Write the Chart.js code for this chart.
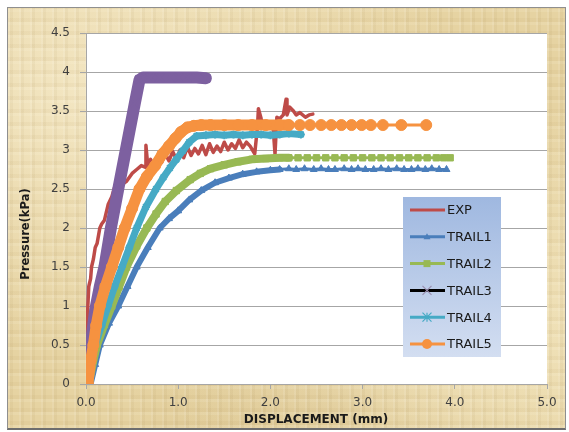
<!DOCTYPE html>
<html>
<head>
<meta charset="utf-8">
<script src="https://cdn.jsdelivr.net/npm/chart.js@4.4.1/dist/chart.umd.min.js"></script>
<style>
    html, body { margin: 0; padding: 0; background: #ffffff; }
    #wrap { position: relative; width: 569px; height: 432px; overflow: hidden; }
    #paper {
        position: absolute; left: 7px; top: 7px; width: 557px; height: 420px;
        border: 1px solid #8f8f8f; border-bottom: 2px solid #6e6e6e;
        background:
            repeating-linear-gradient(90deg, rgba(255,255,255,0.10) 0 2px, rgba(120,90,30,0.05) 2px 5px, rgba(255,255,255,0) 5px 11px),
            repeating-linear-gradient(0deg, rgba(255,250,230,0.12) 0 3px, rgba(150,110,40,0.05) 3px 7px, rgba(255,255,255,0) 7px 13px),
            radial-gradient(ellipse at 15% 20%, #f3e6c2 0%, rgba(243,230,194,0) 55%),
            radial-gradient(ellipse at 85% 75%, #f1e3bb 0%, rgba(241,227,187,0) 50%),
            radial-gradient(ellipse at 60% 95%, #d9c28c 0%, rgba(217,194,140,0) 45%),
            #e6d3a2;
    }
    canvas { position: absolute; left: 0; top: 0; }
</style>
</head>
<body>
<div id="wrap">
    <div id="paper"></div>
    <canvas id="chart" width="569" height="432"></canvas>
</div>
<script>
// values
const expX = [0, 0.01, 0.02, 0.03, 0.05, 0.06, 0.08, 0.1, 0.12, 0.15, 0.17, 0.2, 0.24, 0.28, 0.33, 0.38, 0.44, 0.5, 0.55, 0.6, 0.64, 0.65, 0.67, 0.7, 0.74, 0.78, 0.82, 0.86, 0.9, 0.94, 0.98, 1.02, 1.06, 1.1, 1.14, 1.18, 1.22, 1.26, 1.3, 1.34, 1.38, 1.42, 1.46, 1.5, 1.54, 1.58, 1.62, 1.66, 1.7, 1.74, 1.78, 1.83, 1.86, 1.87, 1.9, 1.93, 1.98, 2.03, 2.05, 2.07, 2.1, 2.14, 2.17, 2.18, 2.21, 2.25, 2.28, 2.32, 2.38, 2.42, 2.46];
const expY = [0, 0.6, 1.0, 1.25, 1.35, 1.5, 1.6, 1.75, 1.8, 2.0, 2.05, 2.1, 2.3, 2.4, 2.6, 2.55, 2.6, 2.7, 2.75, 2.8, 2.78, 3.06, 2.8, 2.88, 2.8, 2.92, 2.84, 2.95, 2.86, 2.98, 2.88, 3.0, 2.9, 3.04, 2.93, 3.02, 2.95, 3.06, 2.94, 3.08, 2.97, 3.05, 2.98, 3.1, 3.0, 3.08, 3.02, 3.13, 3.03, 3.1, 3.05, 2.95, 3.3, 3.53, 3.4, 3.3, 3.35, 3.28, 2.95, 3.42, 3.4, 3.45, 3.65, 3.45, 3.55, 3.5, 3.45, 3.48, 3.42, 3.45, 3.46];

const trail1X = [0.05, 0.1, 0.15, 0.25, 0.35, 0.45, 0.55, 0.67, 0.8, 0.9, 1.0, 1.12, 1.25, 1.4, 1.55, 1.7, 1.85, 2.0, 2.1, 2.2, 2.28, 2.37, 2.47, 2.55, 2.63, 2.7, 2.8, 2.88, 2.95, 3.03, 3.12, 3.2, 3.28, 3.37, 3.45, 3.53, 3.6, 3.68, 3.75, 3.83, 3.91];
const trail1Y = [0, 0.25, 0.5, 0.78, 1.0, 1.25, 1.5, 1.75, 2.0, 2.12, 2.22, 2.36, 2.48, 2.58, 2.64, 2.69, 2.72, 2.74, 2.75, 2.76, 2.75, 2.76, 2.75, 2.76, 2.75, 2.75, 2.76, 2.75, 2.76, 2.75, 2.75, 2.76, 2.75, 2.76, 2.75, 2.75, 2.76, 2.75, 2.76, 2.75, 2.75];

const trail2X = [0.03, 0.08, 0.12, 0.2, 0.28, 0.36, 0.44, 0.55, 0.66, 0.76, 0.86, 0.98, 1.13, 1.24, 1.35, 1.5, 1.65, 1.8, 1.95, 2.1, 2.2, 2.3, 2.4, 2.5, 2.6, 2.7, 2.8, 2.9, 3.0, 3.1, 3.2, 3.3, 3.4, 3.5, 3.6, 3.7, 3.8, 3.88, 3.95];
const trail2Y = [0, 0.3, 0.5, 0.76, 1.0, 1.25, 1.5, 1.77, 2.0, 2.18, 2.34, 2.48, 2.62, 2.7, 2.76, 2.81, 2.85, 2.88, 2.89, 2.9, 2.9, 2.9, 2.9, 2.9, 2.9, 2.9, 2.9, 2.9, 2.9, 2.9, 2.9, 2.9, 2.9, 2.9, 2.9, 2.9, 2.9, 2.9, 2.9];

const trail3X = [0, 0.05, 0.1, 0.15, 0.2, 0.27, 0.35, 0.44, 0.53, 0.58, 0.62, 0.7, 0.8, 0.9, 1.0, 1.1, 1.2, 1.3];
const trail3Y = [0, 0.5, 0.95, 1.25, 1.5, 2.0, 2.5, 3.05, 3.6, 3.9, 3.93, 3.93, 3.93, 3.93, 3.93, 3.93, 3.93, 3.92];

const trail4X = [0.02, 0.06, 0.1, 0.17, 0.24, 0.31, 0.39, 0.47, 0.55, 0.65, 0.76, 0.84, 0.91, 0.98, 1.05, 1.12, 1.2, 1.3, 1.4, 1.5, 1.6, 1.7, 1.8, 1.9, 2.0, 2.1, 2.2, 2.33];
const trail4Y = [0, 0.25, 0.5, 0.75, 1.0, 1.25, 1.5, 1.75, 2.0, 2.27, 2.5, 2.65, 2.77, 2.88, 2.99, 3.1, 3.18, 3.19, 3.2, 3.19, 3.2, 3.19, 3.2, 3.2, 3.19, 3.2, 3.21, 3.2];

const trail5X = [0.02, 0.05, 0.08, 0.11, 0.15, 0.21, 0.28, 0.35, 0.42, 0.5, 0.58, 0.66, 0.75, 0.83, 0.9, 0.97, 1.03, 1.1, 1.17, 1.25, 1.35, 1.5, 1.65, 1.8, 1.95, 2.1, 2.2, 2.32, 2.43, 2.55, 2.66, 2.77, 2.88, 2.99, 3.09, 3.22, 3.42, 3.69];
const trail5Y = [0, 0.3, 0.5, 0.75, 1.0, 1.25, 1.5, 1.75, 2.0, 2.25, 2.5, 2.66, 2.8, 2.95, 3.05, 3.15, 3.23, 3.29, 3.31, 3.32, 3.32, 3.32, 3.32, 3.32, 3.32, 3.32, 3.32, 3.32, 3.32, 3.32, 3.32, 3.32, 3.32, 3.32, 3.32, 3.32, 3.32, 3.32];

const seriesNames = ['EXP', 'TRAIL1', 'TRAIL2', 'TRAIL3', 'TRAIL4', 'TRAIL5'];
const xTicks = [0, 1, 2, 3, 4, 5];

// styles: band = line width where markers are packed, thin = width where they spread out
const styles = [
    { xs: expX, ys: expY, color: '#be4b48', legendColor: '#be4b48', marker: false, radius: 0, band: 3.5, thin: 3.5, bandEnd: 9 },
    { xs: trail1X, ys: trail1Y, color: '#4a7ebb', legendColor: '#4a7ebb', marker: 'triangle', radius: 4, band: 6, thin: 3, bandEnd: 2.1 },
    { xs: trail2X, ys: trail2Y, color: '#98b954', legendColor: '#98b954', marker: 'rect', radius: 4.5, band: 8, thin: 3, bandEnd: 2.2 },
    { xs: trail3X, ys: trail3Y, color: '#7d60a0', legendColor: '#000000', marker: 'crossRot', radius: 6, band: 12, thin: 12, bandEnd: 9 },
    { xs: trail4X, ys: trail4Y, color: '#46aac5', legendColor: '#46aac5', marker: 'star', radius: 4, band: 7, thin: 7, bandEnd: 9 },
    { xs: trail5X, ys: trail5Y, color: '#f69240', legendColor: '#f69240', marker: 'circle', radius: 5.5, band: 11, thin: 3, bandEnd: 2.2 }
];

const datasets = styles.map((s, i) => ({
    label: seriesNames[i],
    data: s.xs.map((x, k) => ({ x: x, y: s.ys[k] })),
    showLine: true,
    borderColor: s.color,
    backgroundColor: s.color,
    borderWidth: s.thin,
    borderJoinStyle: 'round',
    borderCapStyle: 'round',
    pointStyle: s.marker || 'circle',
    pointRadius: s.marker ? s.radius : 0,
    pointBorderColor: s.color,
    pointBackgroundColor: s.color,
    pointBorderWidth: (s.marker === 'crossRot' || s.marker === 'star') ? 2 : 1,
    order: 6 - i,
    segment: {
        borderWidth: ctx => (s.xs[ctx.p1DataIndex] <= s.bandEnd ? s.band : s.thin)
    }
}));

const fontFamily = '"DejaVu Sans", Verdana, sans-serif';
const tickFont = { family: fontFamily, size: 12 };
const gridGray = '#a6a6a6';

// white plot area
const plotBackground = {
    id: 'plotBackground',
    beforeDraw(chart) {
        const a = chart.chartArea;
        const ctx = chart.ctx;
        ctx.save();
        ctx.fillStyle = '#ffffff';
        ctx.fillRect(a.left, a.top, a.right - a.left, a.bottom - a.top);
        ctx.restore();
    }
};

function drawMarker(ctx, style, x, y, r, color) {
    ctx.save();
    ctx.fillStyle = color;
    ctx.strokeStyle = color;
    ctx.lineWidth = 1.2;
    ctx.beginPath();
    if (style === 'triangle') {
        ctx.moveTo(x, y - r);
        ctx.lineTo(x + r, y + r * 0.7);
        ctx.lineTo(x - r, y + r * 0.7);
        ctx.closePath();
        ctx.fill();
    } else if (style === 'rect') {
        ctx.fillRect(x - r, y - r, 2 * r, 2 * r);
    } else if (style === 'crossRot') {
        ctx.moveTo(x - r, y - r); ctx.lineTo(x + r, y + r);
        ctx.moveTo(x - r, y + r); ctx.lineTo(x + r, y - r);
        ctx.stroke();
    } else if (style === 'star') {
        ctx.moveTo(x - r, y - r); ctx.lineTo(x + r, y + r);
        ctx.moveTo(x - r, y + r); ctx.lineTo(x + r, y - r);
        ctx.moveTo(x, y - r); ctx.lineTo(x, y + r);
        ctx.stroke();
    } else if (style === 'circle') {
        ctx.arc(x, y, r, 0, Math.PI * 2);
        ctx.fill();
    }
    ctx.restore();
}

// legend box inside the plot, plus the axis titles
const boxLegend = {
    id: 'boxLegend',
    afterDatasetsDraw(chart) {
        const ctx = chart.ctx;
        const left = 403, top = 197, w = 98, h = 160;
        ctx.save();
        const g = ctx.createLinearGradient(0, top, 0, top + h);
        g.addColorStop(0, '#9fb8e0');
        g.addColorStop(1, '#d3def1');
        ctx.fillStyle = g;
        ctx.fillRect(left, top, w, h);

        const legendMarkers = [
            { style: false, r: 0, color: '' },
            { style: 'triangle', r: 3.5, color: '#4a7ebb' },
            { style: 'rect', r: 3.5, color: '#98b954' },
            { style: 'crossRot', r: 4.5, color: '#9a8fb0' },
            { style: 'star', r: 4.5, color: '#46aac5' },
            { style: 'circle', r: 5, color: '#f69240' }
        ];
        ctx.font = '13px ' + fontFamily;
        ctx.textBaseline = 'middle';
        seriesNames.forEach((name, i) => {
            const y = 210 + i * 26.8;
            ctx.strokeStyle = styles[i].legendColor;
            ctx.lineWidth = 3;
            ctx.beginPath();
            ctx.moveTo(410, y);
            ctx.lineTo(445, y);
            ctx.stroke();
            const m = legendMarkers[i];
            if (m.style) drawMarker(ctx, m.style, 427, y, m.r, m.color);
            ctx.fillStyle = '#1a1a1a';
            ctx.fillText(name, 447, y + 1);
        });
        ctx.restore();
    },
    afterDraw(chart) {
        const ctx = chart.ctx;
        ctx.save();
        ctx.fillStyle = '#1a1a1a';
        ctx.textAlign = 'center';
        ctx.textBaseline = 'middle';
        ctx.font = 'bold 12px ' + fontFamily;
        ctx.fillText('DISPLACEMENT (mm)', 316, 420);
        ctx.translate(26, 234);
        ctx.rotate(-Math.PI / 2);
        ctx.font = 'bold 11.5px ' + fontFamily;
        ctx.fillText('Pressure(kPa)', 0, 0);
        ctx.restore();
    }
};

new Chart(document.getElementById('chart').getContext('2d'), {
    type: 'scatter',
    data: { datasets: datasets },
    options: {
        responsive: false,
        animation: false,
        layout: { padding: { left: 0, right: 22, top: 33, bottom: 0 } },
        plugins: {
            legend: { display: false },
            tooltip: { enabled: false }
        },
        scales: {
            x: {
                type: 'linear',
                min: 0,
                max: 5,
                afterFit: scale => { scale.height = 48; },
                afterBuildTicks: scale => { scale.ticks = xTicks.map(v => ({ value: v })); },
                ticks: {
                    font: tickFont,
                    color: '#404040',
                    padding: 7,
                    callback: v => Number(v).toFixed(1)
                },
                grid: { drawOnChartArea: false, drawTicks: true, tickLength: 5, color: gridGray },
                border: { display: true, color: gridGray }
            },
            y: {
                min: 0,
                max: 4.5,
                afterFit: scale => { scale.width = 86; },
                ticks: {
                    stepSize: 0.5,
                    font: tickFont,
                    color: '#404040',
                    padding: 10,
                    callback: v => String(Math.round(v * 10) / 10)
                },
                grid: { color: gridGray, tickLength: 6 },
                border: { display: true, color: gridGray }
            }
        }
    },
    plugins: [plotBackground, boxLegend]
});
</script>
</body>
</html>
